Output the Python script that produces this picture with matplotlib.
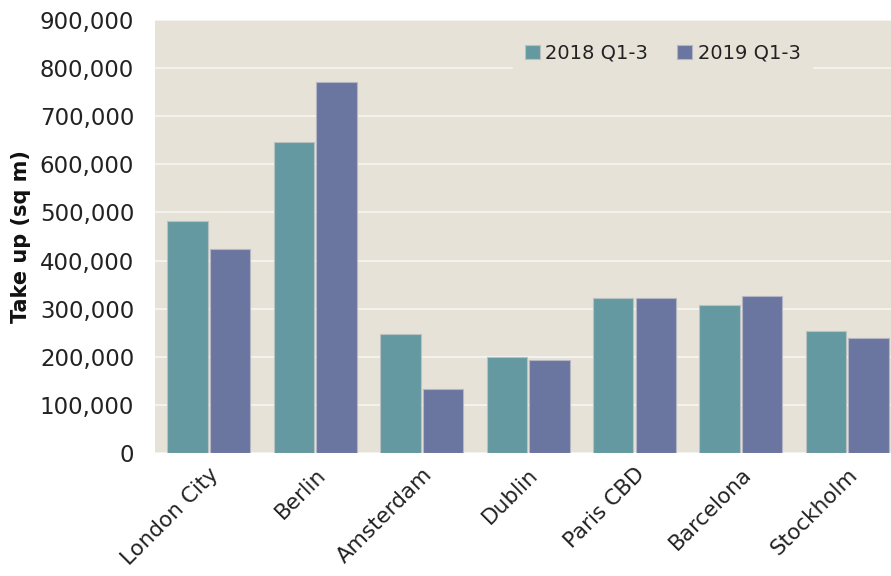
import matplotlib
matplotlib.use("Agg")
import matplotlib.pyplot as plt
import numpy as np

cities = ["London City", "Berlin", "Amsterdam", "Dublin", "Paris CBD", "Barcelona", "Stockholm"]
take_up_2018 = [483000, 647000, 248000, 199000, 323000, 307000, 254000]
take_up_2019 = [423000, 772000, 133000, 194000, 322000, 327000, 239000]
series_labels = ["2018 Q1-3", "2019 Q1-3"]
yticks = [0, 100000, 200000, 300000, 400000, 500000, 600000, 700000, 800000, 900000]

bg = "#E6E2D7"
c18 = "#6499A1"
c19 = "#6A75A0"

plt.rcParams['font.family'] = ['DejaVu Sans']

fig = plt.figure(figsize=(8.91, 5.76), dpi=100)
ax = fig.add_axes([155/891, 1 - 453/576, (891-155)/891, (453-20)/576])
ax.set_facecolor(bg)

x = np.arange(len(cities))
w = 0.38
ax.bar(x - 0.2, take_up_2018, width=w, color=c18, edgecolor="#B9C2C0", linewidth=0.8, label=series_labels[0], zorder=3)
ax.bar(x + 0.2, take_up_2019, width=w, color=c19, edgecolor="#B4B6C4", linewidth=0.8, label=series_labels[1], zorder=3)

ax.set_ylim(0, 900000)
ax.set_xlim(-0.505, 6.41)
ax.set_yticks(yticks)
ax.set_yticklabels([f"{v:,}" for v in yticks], fontsize=16.5, color="#222222")
ax.yaxis.grid(True, color="#F4F2EE", linewidth=1.5, zorder=1)
ax.set_axisbelow(True)
ax.tick_params(axis='y', length=0, pad=15)
ax.tick_params(axis='x', length=0, pad=8)
ax.set_xticks(x)
ax.set_xticklabels(cities, rotation=45, ha='right', rotation_mode='anchor', fontsize=15.5, color="#222222")
for s in ax.spines.values():
    s.set_visible(False)

ax.set_ylabel("Take up (sq m)", fontsize=15, fontweight='bold', color="#111111", labelpad=6)

leg = ax.legend(loc='upper center', bbox_to_anchor=(0.69, 0.995), ncol=2, frameon=True,
                facecolor=bg, edgecolor=bg, framealpha=1, fontsize=14,
                handlelength=0.75, handleheight=0.75, handletextpad=0.3, columnspacing=1.5,
                borderpad=0.6, fancybox=False)
for t in leg.get_texts():
    t.set_color("#222222")

fig.savefig("out.png", dpi=100)
